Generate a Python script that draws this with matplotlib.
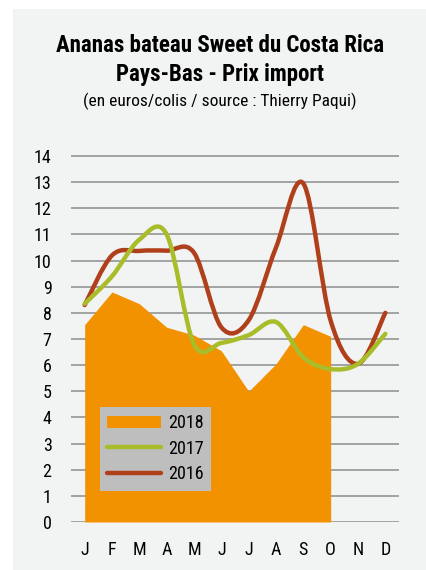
import matplotlib

matplotlib.use('Agg')

import matplotlib.pyplot as plt
from matplotlib.path import Path
from matplotlib.patches import PathPatch, Patch, Rectangle
from matplotlib.lines import Line2D

months = ['J', 'F', 'M', 'A', 'M', 'J', 'J', 'A', 'S', 'O', 'N', 'D']
prix_2018 = [7.55, 8.8, 8.35, 7.45, 7.15, 6.55, 5.0, 6.05, 7.55, 7.1]
prix_2017 = [8.35, 9.4, 10.8, 11.0, 6.8, 6.85, 7.15, 7.65, 6.3, 5.85, 6.05, 7.2]
prix_2016 = [8.3, 10.2, 10.37, 10.38, 10.3, 7.45, 7.72, 10.5, 12.95, 7.7, 6.05, 8.0]
series_labels = ['2018', '2017', '2016']

ORANGE = '#f39200'
GREEN = '#a9bd2b'
RED = '#b0401b'
BG = '#f2f4f3'
GRID = '#8c8c8c'

plt.rcParams['font.family'] = ['Roboto Condensed', 'DejaVu Sans']


def smooth_path(ys):
    # excel-like smoothed line: cubic bezier segments through the points
    xs = list(range(len(ys)))
    n = len(ys)
    verts = [(xs[0], ys[0])]
    codes = [Path.MOVETO]
    for i in range(n - 1):
        p0 = (xs[i - 1], ys[i - 1]) if i > 0 else (xs[i], ys[i])
        p1 = (xs[i], ys[i])
        p2 = (xs[i + 1], ys[i + 1])
        p3 = (xs[i + 2], ys[i + 2]) if i + 2 < n else p2
        c1 = (p1[0] + (p2[0] - p0[0]) / 6, p1[1] + (p2[1] - p0[1]) / 6)
        c2 = (p2[0] - (p3[0] - p1[0]) / 6, p2[1] - (p3[1] - p1[1]) / 6)
        verts += [c1, c2, p2]
        codes += [Path.CURVE4] * 3
    return Path(verts, codes)


fig = plt.figure(figsize=(4.27, 5.70), dpi=100)
fig.patch.set_facecolor('white')
fig.patches.append(Rectangle((13 / 427, 0), 1, 561 / 570, transform=fig.transFigure,
                             facecolor=BG, edgecolor='none', zorder=-5))

cx = 220 / 427
fig.text(cx, 1 - 45 / 570, 'Ananas bateau Sweet du Costa Rica', ha='center', va='center',
         fontsize=16.5, fontweight='bold')
fig.text(cx, 1 - 75 / 570, 'Pays-Bas - Prix import', ha='center', va='center',
         fontsize=16.5, fontweight='bold')
fig.text(cx, 1 - 101 / 570, '(en euros/colis / source : Thierry Paqui)', ha='center', va='center',
         fontsize=12.5)

ax = fig.add_axes([71 / 427, 48 / 570, 328 / 427, 371.2 / 570])
ax.set_facecolor('none')
ax.set_xlim(-0.5, 11.5)
ax.set_ylim(0, 14.2)

for v in range(15):
    ax.axhline(v, color=GRID, lw=1.1, zorder=1)

ax.fill_between(range(len(prix_2018)), prix_2018, 0, color=ORANGE, lw=0, zorder=2)

ax.add_patch(PathPatch(smooth_path(prix_2016), facecolor='none', edgecolor=RED, lw=3.2,
                       capstyle='round', joinstyle='round', zorder=3))
ax.add_patch(PathPatch(smooth_path(prix_2017), facecolor='none', edgecolor=GREEN, lw=3.2,
                       capstyle='round', joinstyle='round', zorder=4))

ax.set_xticks(range(12))
ax.set_xticklabels(months)
ax.set_yticks(range(15))
ax.tick_params(length=0, labelsize=13)
ax.tick_params(axis='y', pad=14)
ax.tick_params(axis='x', pad=14)
for s in ax.spines.values():
    s.set_visible(False)

handles = [Patch(facecolor=ORANGE, edgecolor='none'),
           Line2D([], [], color=GREEN, lw=3.2, solid_capstyle='round'),
           Line2D([], [], color=RED, lw=3.2, solid_capstyle='round')]
leg = ax.legend(handles, series_labels, loc='upper left', bbox_to_anchor=(0.088, 0.31),
                borderaxespad=0, fontsize=13, frameon=True, fancybox=False,
                facecolor='#bebebe', edgecolor='none', framealpha=1,
                handlelength=3.0, handleheight=0.7, handletextpad=0.4,
                labelspacing=0.42, borderpad=0.4)
leg.set_zorder(5)

fig.savefig('out.png', dpi=100)
